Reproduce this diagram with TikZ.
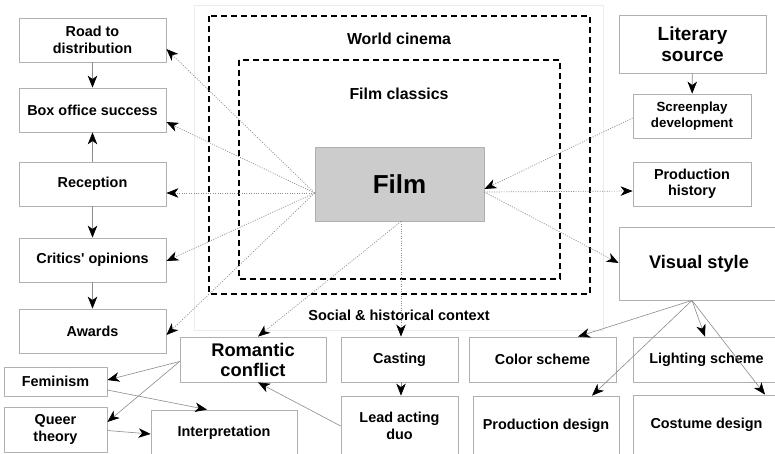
\documentclass[tikz,border=0pt]{standalone}
\usepackage{fontspec}
\setmainfont{Liberation Sans}
\usetikzlibrary{arrows.meta}
\definecolor{boxgray}{HTML}{B0B0B0}
\definecolor{linegray}{HTML}{8C8C8C}
\definecolor{filmfill}{HTML}{CCCCCC}
\newcommand{\fs}[2]{\fontsize{#1}{#2}\selectfont}
\tikzset{
  box/.style={draw=boxgray, line width=0.8pt, inner sep=0pt, align=center,
    font=\bfseries\fs{14.4}{16.5}},
  tip/.style={-{Stealth[length=12pt,width=9.5pt,inset=3.5pt,color=black]}},
  conn/.style={tip, draw=linegray, line width=0.6pt},
  dotconn/.style={tip, draw=linegray, line width=0.7pt, dash pattern=on 1pt off 1.4pt},
  frame/.style={draw=black, line width=1.3pt, dash pattern=on 6pt off 4pt},
  lbl/.style={font=\bfseries\fs{15.9}{18}, inner sep=0pt},
}
\begin{document}
\begin{tikzpicture}[x=1pt,y=-1pt]
\clip (0,0) rectangle (775,453);
\fill[white] (0,0) rectangle (775,453);
% context frames
\draw[draw=black!8, line width=0.6pt] (194,5) rectangle (603,330);
\draw[frame] (209,16) rectangle (590,294);
\draw[frame, line width=1.1pt] (239,60) rectangle (560,279);
\node[lbl] (wc) at (399,39) {World cinema};
\node[lbl] (fc) at (399,94) {Film classics};
\node[lbl, font=\bfseries\fs{14.5}{17}] (shc) at (399,315) {Social \& historical context};
% central
\node[box, fill=filmfill, minimum width=169pt, minimum height=74pt, font=\bfseries\fs{26}{30}] (film) at (399.5,184) {Film};
% left column
\node[box, minimum width=147pt, minimum height=44pt] (road) at (92.5,40) {Road to\\distribution};
\node[box, minimum width=147pt, minimum height=44pt] (boxo) at (92.5,110) {Box office success};
\node[box, minimum width=147pt, minimum height=44pt] (recep) at (92.5,184) {Reception};
\node[box, minimum width=147pt, minimum height=44pt] (crit) at (92.5,260) {Critics\textquotesingle{} opinions};
\node[box, minimum width=147pt, minimum height=44pt] (awards) at (92.5,331) {Awards};
\node[box, minimum width=103pt, minimum height=29pt] (fem) at (55.5,381.5) {Feminism};
\node[box, minimum width=103pt, minimum height=45pt] (queer) at (55.5,429.5) {Queer\\theory};
\node[box, minimum width=146pt, minimum height=46pt] (interp) at (224,433) {Interpretation};
% bottom row
\node[box, minimum width=146pt, minimum height=45pt, font=\bfseries\fs{18.3}{20}] (rom) at (253,359.5) {Romantic\\conflict};
\node[box, minimum width=117pt, minimum height=45pt] (cast) at (399.5,359.5) {Casting};
\node[box, minimum width=117pt, minimum height=60pt] (lead) at (399.5,426) {Lead acting\\duo};
\node[box, minimum width=147pt, minimum height=45pt] (color) at (542.5,359.5) {Color scheme};
\node[box, minimum width=147pt, minimum height=45pt] (light) at (706.5,359.5) {Lighting scheme};
\node[box, minimum width=146pt, minimum height=60pt] (prod) at (546,426) {Production design};
\node[box, minimum width=147pt, minimum height=60pt] (cost) at (706.5,425) {Costume design};
% right column
\node[box, minimum width=147pt, minimum height=58pt, font=\bfseries\fs{19}{21.5}] (lit) at (692.5,44) {Literary\\source};
\node[box, minimum width=118pt, minimum height=44pt, font=\bfseries\fs{13.3}{16}] (screen) at (692,116) {Screenplay\\development};
\node[box, minimum width=118pt, minimum height=44pt] (phist) at (692,184) {Production\\history};
\node[box, minimum width=160pt, minimum height=73pt, font=\bfseries\fs{18.2}{21}] (vis) at (699,263.5) {Visual style};
% dotted connectors from film
\draw[dotconn] ([yshift=-9pt]film.west) -- ([yshift=-9pt]road.east);
\draw[dotconn] ([yshift=-9pt]film.west) -- ([yshift=-12pt]boxo.east);
\draw[dotconn] ([yshift=-9pt]film.west) -- ([yshift=-9pt]recep.east);
\draw[dotconn] ([yshift=-9pt]film.west) -- ([yshift=-1pt]crit.east);
\draw[dotconn] ([yshift=-9pt]film.west) -- ([yshift=-4pt]awards.east);
\draw[dotconn] ([yshift=-2pt]screen.west) -- ([yshift=-5pt]film.east);
\draw[dotconn] ([yshift=-8pt]film.east) -- ([yshift=-7pt]phist.west);
\draw[dotconn] ([yshift=-8pt]film.east) -- ([yshift=0.5pt]vis.west);
\draw[dotconn] ([xshift=1.5pt]film.south) -- ([xshift=1.5pt]cast.north);
\draw[dotconn] ([xshift=1.5pt]film.south) -- ([xshift=5pt]rom.north);
% solid connectors
\draw[conn] (road) -- (boxo);
\draw[conn] (recep) -- (boxo);
\draw[conn] (recep) -- (crit);
\draw[conn] (crit) -- (awards);
\draw[conn] (lit) -- (screen);
\draw[conn] ([xshift=1.5pt]cast.south) -- ([xshift=1.5pt]lead.north);
\draw[conn] (lead.west) -- ([xshift=5pt]rom.south);
\draw[conn] ([yshift=-2pt]rom.west) -- ([yshift=1.5pt]fem.east);
\draw[conn] ([yshift=-2pt]rom.west) -- ([yshift=7.5pt]queer.east);
\draw[conn] ([yshift=-8.5pt]fem.east) -- ([xshift=-17pt]interp.north);
\draw[conn] ([yshift=-1pt]queer.east) -- ([yshift=-1pt]interp.west);
\draw[conn] ([xshift=-7pt]vis.south) -- ([xshift=35.5pt]color.north);
\draw[conn] ([xshift=-7pt]vis.south) -- ([xshift=-1.5pt]light.north);
\draw[conn] ([xshift=-7pt]vis.south) -- ([xshift=46pt]prod.north);
\draw[conn] ([xshift=-7pt]vis.south) -- ([xshift=58.5pt]cost.north);
\end{tikzpicture}
\end{document}
